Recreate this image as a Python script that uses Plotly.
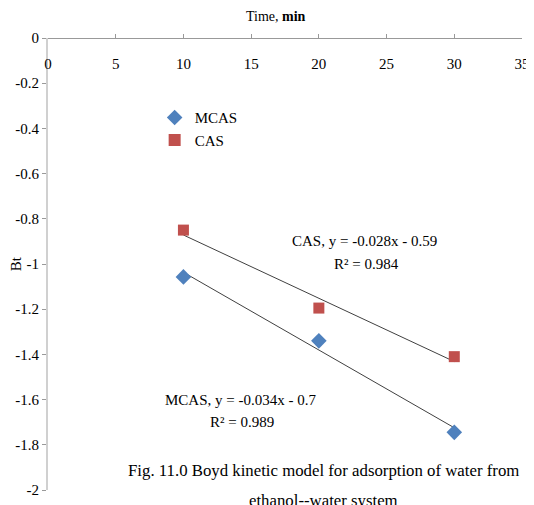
import numpy as np
import plotly.graph_objects as go

time_min = [10, 20, 30]
mcas_bt = [-1.057, -1.34, -1.745]
cas_bt = [-0.85, -1.195, -1.41]
x_ticks = [0, 5, 10, 15, 20, 25, 30, 35]
y_ticks = [0, -0.2, -0.4, -0.6, -0.8, -1, -1.2, -1.4, -1.6, -1.8, -2]

FONT = "Liberation Serif, Times New Roman, serif"
BLUE = "#4F81BD"
RED = "#C0504D"

fig = go.Figure()

for ys in (mcas_bt, cas_bt):
    m, b = np.polyfit(time_min, ys, 1)
    xs = np.array([min(time_min), max(time_min)])
    fig.add_trace(go.Scatter(x=xs, y=m * xs + b, mode="lines",
                             line=dict(color="#404040", width=1),
                             showlegend=False, hoverinfo="skip"))

fig.add_trace(go.Scatter(x=time_min, y=mcas_bt, mode="markers", name="MCAS",
                         marker=dict(symbol="diamond", size=12, color=BLUE)))
fig.add_trace(go.Scatter(x=time_min, y=cas_bt, mode="markers", name="CAS",
                         marker=dict(symbol="square", size=11, color=RED)))

fig.update_layout(
    width=526, height=497,
    margin=dict(l=40, r=12, t=30, b=15),
    paper_bgcolor="white", plot_bgcolor="white",
    font=dict(family=FONT, size=15, color="black"),
    showlegend=True,
    legend=dict(x=0.225, y=0.86, xanchor="left", yanchor="top",
                bgcolor="rgba(0,0,0,0)", font=dict(family=FONT, size=15),
                tracegroupgap=0, itemsizing="constant"),
    xaxis=dict(range=[0, 35], tickvals=x_ticks, side="bottom",
               anchor="free", position=1,
               ticks="inside", ticklen=4, tickcolor="#999999",
               ticklabelstandoff=12,
               showline=True, linecolor="#999999", linewidth=1,
               showgrid=False, zeroline=False, automargin=False,
               tickfont=dict(family=FONT, size=15)),
    yaxis=dict(range=[-2, 0], tickvals=y_ticks,
               ticktext=[("%g" % v) for v in y_ticks],
               ticks="outside", ticklen=4, tickcolor="#999999",
               showline=True, linecolor="#d0d0d0", linewidth=2,
               showgrid=False, zeroline=False, automargin=False,
               tickfont=dict(family=FONT, size=15)),
)

annots = [
    dict(x=23.4, y=-0.9, xref="x", yref="y", text="CAS, y = -0.028x - 0.59"),
    dict(x=23.5, y=-1.0, xref="x", yref="y", text="R² = 0.984"),
    dict(x=14.2, y=-1.6, xref="x", yref="y", text="MCAS, y = -0.034x - 0.7"),
    dict(x=14.3, y=-1.697, xref="x", yref="y", text="R² = 0.989"),
    dict(x=0.48, y=1.047, xref="paper", yref="paper", text="Time, <b>min</b>",
         font=dict(family=FONT, size=14)),
    dict(x=-0.067, y=0.5, xref="paper", yref="paper", text="Bt", textangle=-90),
    dict(x=0.582, y=0.044, xref="paper", yref="paper",
         text="Fig. 11.0 Boyd kinetic model for adsorption of water from",
         font=dict(family=FONT, size=16.8)),
    dict(x=0.582, y=-0.024, xref="paper", yref="paper",
         text="ethanol--water system", font=dict(family=FONT, size=16.8)),
]
for a in annots:
    a.setdefault("font", dict(family=FONT, size=15))
    fig.add_annotation(showarrow=False, xanchor="center", yanchor="middle", **a)

fig.write_html("out.html")
